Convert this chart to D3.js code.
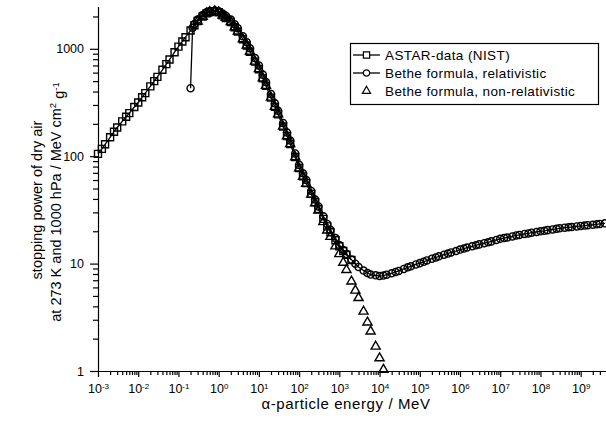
<!DOCTYPE html>
<html lang="en">
<head>
   <meta charset="UTF-8">
   <title>Stopping power of dry air for alpha particles</title>
   <script src="https://cdn.jsdelivr.net/npm/d3@7"></script>
   <style>
      html, body {
         margin: 0;
         padding: 0;
         background: #fff;
         overflow: hidden;
      }

      text {
         font-family: "Liberation Sans", Arial, sans-serif;
         fill: #000;
      }

      .tick line, .domain {
         stroke: #000;
         stroke-width: 1.2;
      }
   </style>
</head>
<body>
   <svg id="chart" width="606" height="425"></svg>
   <script>
      // ASTAR (NIST) data, energy in MeV, stopping power in MeV cm^2/g
      const astarEnergy = [
         0.001, 0.00125, 0.0015, 0.002, 0.0025, 0.003, 0.004, 0.005, 0.006, 0.008,
         0.01, 0.0125, 0.015, 0.02, 0.025, 0.03, 0.04, 0.05, 0.06, 0.08,
         0.1, 0.125, 0.15, 0.2, 0.25, 0.3, 0.4, 0.5, 0.6, 0.8,
         1, 1.25, 1.5, 2, 2.5, 3, 4, 5, 6, 8,
         10, 12.5, 15, 20, 25, 30, 40, 50, 60, 80,
         100, 125, 150, 200, 250, 300, 400, 500, 600, 800,
         1000, 1250, 1500, 2000
      ]
      const astarStopping = [
         105, 117, 129, 150, 169, 185, 211, 233, 252, 287,
         316, 354, 387, 447, 500, 548, 638, 720, 794, 929,
         1047, 1170, 1282, 1479, 1656, 1813, 1999, 2138, 2203, 2239,
         2188, 2046, 1938, 1778, 1585, 1451, 1227, 1072, 940, 760,
         646, 531, 452, 351, 288, 245, 189, 154, 130, 98.4,
         77.6, 64.9, 56.1, 44.6, 37.3, 32.2, 26.1, 22.2, 19.6, 16.5,
         14.5, 13.1, 12.1, 10.8
      ]

      // Bethe formula, relativistic
      const relEnergy = [
         0.2, 0.225, 0.25, 0.3, 0.4, 0.5, 0.6, 0.8,
         1, 1.25, 1.5, 2, 2.5, 3, 4, 5, 6, 8,
         10, 12.5, 15, 20, 25, 30, 40, 50, 60, 80,
         100, 125, 150, 200, 250, 300, 400, 500, 600, 800,
         1e3, 1.25e3, 1.5e3, 2e3, 2.5e3, 3e3, 4e3, 5e3, 6e3, 8e3,
         1e4, 1.25e4, 1.5e4, 2e4, 2.5e4, 3e4, 4e4, 5e4, 6e4, 8e4,
         1e5, 1.25e5, 1.5e5, 2e5, 2.5e5, 3e5, 4e5, 5e5, 6e5, 8e5,
         1e6, 1.25e6, 1.5e6, 2e6, 2.5e6, 3e6, 4e6, 5e6, 6e6, 8e6,
         1e7, 1.25e7, 1.5e7, 2e7, 2.5e7, 3e7, 4e7, 5e7, 6e7, 8e7,
         1e8, 1.25e8, 1.5e8, 2e8, 2.5e8, 3e8, 4e8, 5e8, 6e8, 8e8,
         1e9, 1.25e9, 1.5e9, 2e9, 2.5e9, 3e9, 4e9
      ]
      const relStopping = [
         430, 1570, 1700, 1870, 2060, 2190, 2250, 2270,
         2230, 2130, 2030, 1870, 1690, 1550, 1310, 1150, 1010, 820,
         700, 575, 490, 380, 311, 265, 204, 166, 140, 106,
         83, 69.5, 60, 47.5, 39.6, 34.1, 27.6, 23.4, 20.6, 17.3,
         14.9, 13.4, 12.3, 10.9, 9.98, 9.31, 8.62, 8.17, 7.91, 7.78,
         7.67, 7.74, 7.89, 8.13, 8.36, 8.55, 8.91, 9.23, 9.44, 9.82,
         10.1, 10.4, 10.7, 11.1, 11.4, 11.7, 12.1, 12.4, 12.7, 13.1,
         13.5, 13.8, 14.1, 14.5, 14.8, 15.1, 15.5, 15.8, 16.1, 16.6,
         17.0, 17.3, 17.5, 17.9, 18.3, 18.5, 18.9, 19.1, 19.4, 19.7,
         20.0, 20.2, 20.5, 20.8, 21.1, 21.3, 21.6, 21.8, 21.9, 22.2,
         22.4, 22.6, 22.8, 23.0, 23.2, 23.4, 23.7
      ]

      // Bethe formula, non-relativistic
      const nonRelEnergy = [
         0.3, 0.4, 0.5, 0.6, 0.8,
         1, 1.25, 1.5, 2, 2.5, 3, 4, 5, 6, 8,
         10, 12.5, 15, 20, 25, 30, 40, 50, 60, 80,
         100, 125, 150, 200, 250, 300, 400, 500, 600, 800,
         1e3, 1.25e3, 1.5e3, 2e3, 2.5e3, 3e3, 4e3, 5e3, 6e3, 8e3,
         1e4, 1.25e4
      ]
      const nonRelStopping = [
         1800, 1990, 2130, 2200, 2245,
         2195, 2050, 1945, 1782, 1590, 1455, 1230, 1075, 942, 762,
         648, 532, 453, 352, 289, 246, 189, 154, 130, 98.2,
         77.2, 64.5, 55.6, 44.0, 36.6, 31.3, 24.4, 20.4, 17.8, 14.5,
         12.3, 10.2, 8.75, 6.84, 5.62, 4.79, 3.58, 2.84, 2.34, 1.69,
         1.32, 1.03
      ]

      const xTickExponents = [-3, -2, -1, 0, 1, 2, 3, 4, 5, 6, 7, 8, 9]
      const yTickLabels = ['1', '10', '100', '1000']
      const legendLabels = ['ASTAR-data (NIST)', 'Bethe formula, relativistic', 'Bethe formula, non-relativistic']

      const svg = d3.select('#chart')

      const plot = { left: 98, right: 604, top: 7, bottom: 371 }

      // scales
      const xScale = d3.scaleLog()
         .domain([1e-3, 3.8e9])
         .range([plot.left, plot.right])

      const yScale = d3.scaleLog()
         .domain([1, 2450])
         .range([plot.bottom, plot.top])

      // minor tick values
      const xMinor = []
      xTickExponents.forEach(e => {
         for (let m = 2; m <= 9; m++) {
            const v = m * Math.pow(10, e)
            if (v <= xScale.domain()[1]) xMinor.push(v)
         }
      })
      const yMinor = []
      yTickLabels.forEach(l => {
         for (let m = 2; m <= 9; m++) {
            const v = m * +l
            if (v <= yScale.domain()[1]) yMinor.push(v)
         }
      })

      // x axis
      svg.append('g')
         .attr('transform', `translate(0, ${plot.bottom})`)
         .call(d3.axisBottom(xScale).tickValues(xMinor).tickSize(4).tickFormat(''))
         .call(g => g.select('.domain').remove())

      const xAxisGroup = svg.append('g')
         .attr('transform', `translate(0, ${plot.bottom})`)
         .call(d3.axisBottom(xScale)
            .tickValues(xTickExponents.map(e => Math.pow(10, e)))
            .tickSize(6)
            .tickSizeOuter(0)
            .tickPadding(7))

      xAxisGroup.select('.domain').attr('d', `M${plot.left},0.5H${plot.right + 2}`)

      xAxisGroup.selectAll('.tick text')
         .attr('font-size', '12.5px')
         .attr('font-family', null)
         .each(function (d, i) {
            const t = d3.select(this)
            t.text(null)
            t.append('tspan').text('10')
            t.append('tspan')
               .attr('dy', '-0.45em')
               .attr('font-size', '8px')
               .text(xTickExponents[i])
         })

      // y axis
      svg.append('g')
         .attr('transform', `translate(${plot.left}, 0)`)
         .call(d3.axisLeft(yScale).tickValues(yMinor).tickSize(5).tickFormat(''))
         .call(g => g.select('.domain').remove())

      const yAxisGroup = svg.append('g')
         .attr('transform', `translate(${plot.left}, 0)`)
         .call(d3.axisLeft(yScale)
            .tickValues(yTickLabels.map(Number))
            .tickFormat((d, i) => yTickLabels[i])
            .tickSize(8)
            .tickSizeOuter(0)
            .tickPadding(6))

      yAxisGroup.select('.domain').attr('d', `M0.5,${plot.bottom}V${plot.top}`)
      yAxisGroup.selectAll('.tick text')
         .attr('font-size', '12.5px')
         .attr('font-family', null)

      // axis titles
      svg.append('text')
         .attr('x', 346)
         .attr('y', 409)
         .attr('text-anchor', 'middle')
         .attr('font-size', '15px')
         .attr('letter-spacing', '0.6px')
         .text('α-particle energy / MeV')

      svg.append('text')
         .attr('transform', 'translate(42, 200) rotate(-90)')
         .attr('text-anchor', 'middle')
         .attr('font-size', '14.5px')
         .text('stopping power of dry air')

      const yTitle2 = svg.append('text')
         .attr('transform', 'translate(61, 202) rotate(-90)')
         .attr('text-anchor', 'middle')
         .attr('font-size', '14.5px')
      yTitle2.append('tspan').text('at 273 K and 1000 hPa / MeV cm')
      yTitle2.append('tspan').attr('dy', '-0.55em').attr('font-size', '9.5px').text('2')
      yTitle2.append('tspan').attr('dy', '0.55em').text(' g')
      yTitle2.append('tspan').attr('dy', '-0.55em').attr('font-size', '9.5px').text('-1')

      // series
      const series = [
         { energy: astarEnergy, stopping: astarStopping, symbol: d3.symbolSquare, size: 49, line: true },
         { energy: relEnergy, stopping: relStopping, symbol: d3.symbolCircle, size: 40, line: true },
         { energy: nonRelEnergy, stopping: nonRelStopping, symbol: d3.symbolTriangle, size: 36, line: false }
      ]

      const line = d3.line()
         .x(d => xScale(d[0]))
         .y(d => yScale(d[1]))

      series.forEach(s => {
         const pts = s.energy.map((e, i) => [e, s.stopping[i]])
         const g = svg.append('g')
         if (s.line) {
            g.append('path')
               .datum(pts)
               .attr('fill', 'none')
               .attr('stroke', '#000')
               .attr('stroke-width', 1.3)
               .attr('d', line)
         }
         g.selectAll('path.marker')
            .data(pts)
            .enter()
            .append('path')
            .attr('class', 'marker')
            .attr('d', d3.symbol().type(s.symbol).size(s.size))
            .attr('transform', d => `translate(${xScale(d[0])}, ${yScale(d[1])})`)
            .attr('fill', 'none')
            .attr('stroke', '#000')
            .attr('stroke-width', 1.4)
      })

      // legend
      const legend = svg.append('g')
         .attr('transform', 'translate(350, 43)')

      legend.append('rect')
         .attr('x', 0.5)
         .attr('y', 0.5)
         .attr('width', 248)
         .attr('height', 61)
         .attr('fill', '#fff')
         .attr('stroke', '#000')
         .attr('stroke-width', 1.2)

      legendLabels.forEach((label, i) => {
         const ly = 12 + i * 18
         const s = series[i]
         if (s.line) {
            legend.append('line')
               .attr('x1', 3)
               .attr('x2', 30)
               .attr('y1', ly)
               .attr('y2', ly)
               .attr('stroke', '#000')
               .attr('stroke-width', 1.3)
         }
         legend.append('path')
            .attr('d', d3.symbol().type(s.symbol).size(s.size * 0.8))
            .attr('transform', `translate(16.5, ${ly})`)
            .attr('fill', s.line ? '#fff' : 'none')
            .attr('stroke', '#000')
            .attr('stroke-width', 1.2)
         legend.append('text')
            .attr('x', 35)
            .attr('y', ly)
            .attr('dy', '0.35em')
            .attr('font-size', '13.5px')
            .attr('letter-spacing', '0.4px')
            .text(label)
      })
   </script>
</body>
</html>
